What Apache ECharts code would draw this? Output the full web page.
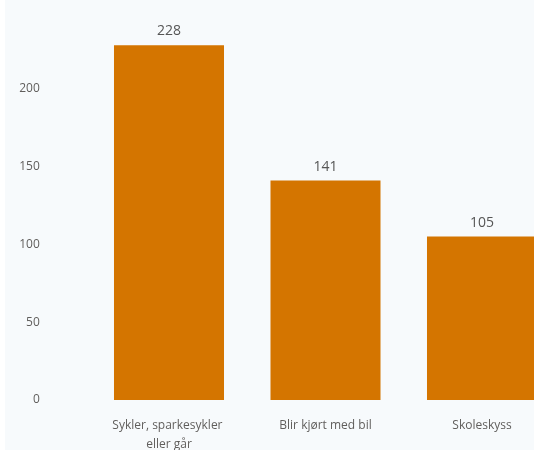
<!DOCTYPE html>
<html><head><meta charset="utf-8">
<script src="https://cdn.jsdelivr.net/npm/echarts@6/dist/echarts.min.js"></script>
<style>
html,body{margin:0;padding:0;background:#fff;overflow:hidden;width:534px;height:450px;}
#c{position:absolute;left:5px;top:0;width:529px;height:450px;background:#f7fafc;}
</style></head><body>
<div id="c"></div>
<script>
const categories = ["Sykler, sparkesykler eller går", "Blir kjørt med bil", "Skoleskyss"];
const values = [228, 141, 105];
const yTicks = [0, 50, 100, 150, 200];

const chart = echarts.init(document.getElementById('c'), null, {renderer: 'canvas'});
chart.setOption({
  backgroundColor: '#f7fafc',
  animation: false,
  grid: {left: 85.75, width: 469.5, top: 11, height: 389, containLabel: false, outerBoundsMode: 'none'},
  xAxis: {
    type: 'category',
    data: categories,
    axisLine: {show: false},
    axisTick: {show: false},
    axisLabel: {
      color: '#605e5c', fontSize: 12, fontFamily: 'Open Sans, Noto Sans, sans-serif',
      margin: 16, lineHeight: 19, width: 125, overflow: 'break', interval: 0
    }
  },
  yAxis: {
    type: 'value', min: 0, max: 250, interval: 50,
    splitLine: {show: false},
    axisLine: {show: false}, axisTick: {show: false},
    axisLabel: {
      color: '#605e5c', fontSize: 12, fontFamily: 'Open Sans, Noto Sans, sans-serif',
      margin: 51,
      formatter: v => yTicks.includes(v) ? String(v) : ''
    }
  },
  series: [{
    type: 'bar',
    data: values,
    barCategoryGap: '29.7%',
    itemStyle: {color: '#d47500'},
    label: {
      show: true, position: 'top', distance: 7,
      color: '#555555', fontSize: 14, fontFamily: 'Open Sans, Noto Sans, sans-serif'
    }
  }]
});
</script></body></html>
